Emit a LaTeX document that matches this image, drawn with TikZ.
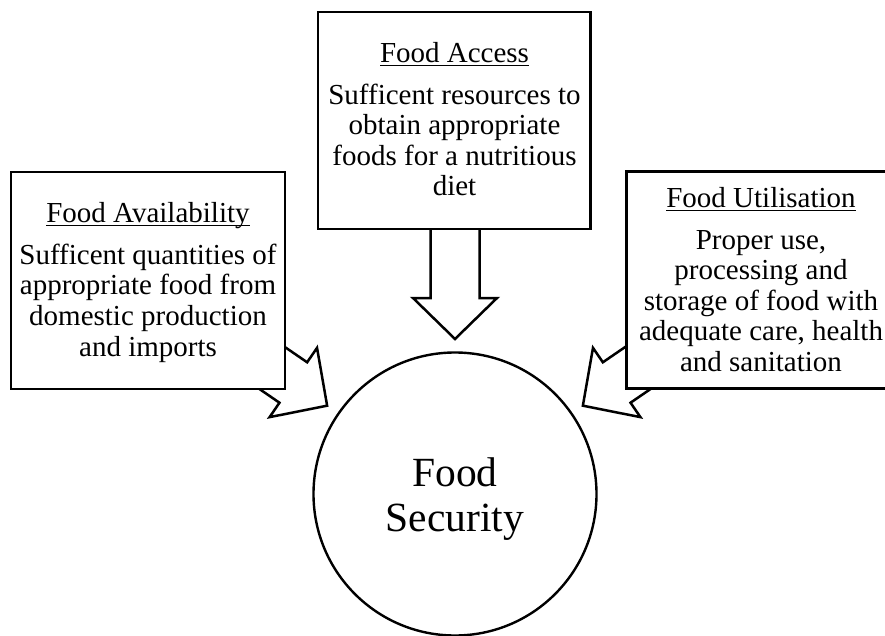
\documentclass[tikz,border=0pt]{standalone}
\usepackage{fontspec}
\setmainfont{Liberation Serif}
\newcommand{\myul}[1]{\setbox0\hbox{#1}\rlap{\rule[-3.4pt]{\wd0}{1.3pt}}\box0}
\tikzset{
  boxshape/.style={draw, fill=white, line width=2.6pt, inner sep=0pt, minimum height=217pt},
  boxtext/.style={anchor=north, align=center, inner sep=0pt, font=\fontsize{29pt}{30.6pt}\selectfont},
  arrowline/.style={draw, fill=white, line width=2.5pt, line join=miter},
  pics/blockarrow/.style={code={
    \path[arrowline] (-#1,-24.5) -- (0,-24.5) -- (0,-42) -- (41,0) -- (0,42) -- (0,24.5) -- (-#1,24.5) -- cycle;
  }}
}
\begin{document}
\begin{tikzpicture}[x=1pt,y=-1pt]
\useasboundingbox (0,0) rectangle (885,636);
\clip (0,0) rectangle (885,636);
% block arrows (tails hidden behind the boxes)
\pic[rotate=-90] (accarrow) at (455,298) {blockarrow=80};
\pic[rotate=-34.4] (avaarrow) at (293.3,382.5) {blockarrow=80};
\pic[rotate=-145.6] (utiarrow) at (616.7,382.5) {blockarrow=80};
% boxes
\node[boxshape, minimum width=272.5pt] (access) at (454.25,120.5) {};
\node[boxshape, minimum width=274pt] (avail) at (148,280.5) {};
\node[boxshape, minimum width=271pt] (util) at (762,280) {};
% box texts
\node[boxtext] (accesstext) at (454.5,40.3) {\rule{0pt}{22pt}\myul{Food Access}\\[11pt]Sufficent resources to\\obtain appropriate\\foods for a nutritious\\diet};
\node[boxtext] (availtext) at (148,200.5) {\rule{0pt}{22pt}\myul{Food Availability}\\[11pt]Sufficent quantities of\\appropriate food from\\domestic production\\and imports};
\node[boxtext] (utiltext) at (761,185.3) {\rule{0pt}{22pt}\myul{Food Utilisation}\\[11pt]Proper use,\\processing and\\storage of food with\\adequate care, health\\and sanitation};
% circle
\node[circle, draw, line width=2.4pt, minimum size=283pt, inner sep=0pt] (security) at (455,494) {};
\node[anchor=north, align=center, inner sep=0pt, font=\fontsize{41.5pt}{45pt}\selectfont] (securitytext) at (455,454.7) {\rule{0pt}{32pt}Food\\Security};
\end{tikzpicture}
\end{document}
